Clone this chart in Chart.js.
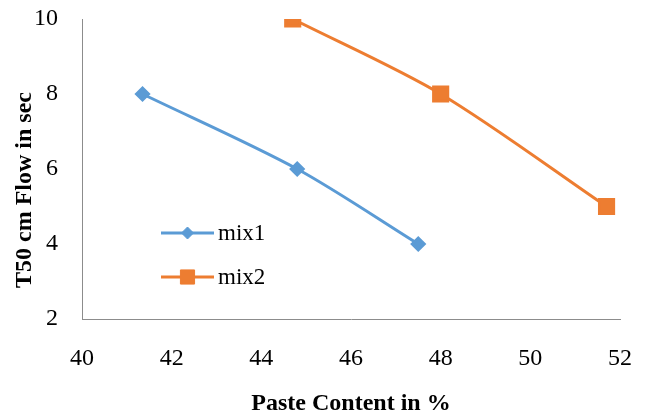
<!DOCTYPE html>
<html>
<head>
<meta charset="utf-8">
<script src="https://cdn.jsdelivr.net/npm/chart.js@4"></script>
<style>
  body { margin: 0; background: #fff; }
  #wrap { width: 648px; height: 418px; }
</style>
</head>
<body>
<div id="wrap"><canvas id="chart" width="648" height="418"></canvas></div>
<script>
// --- Data ---
const mix1X = [41.35, 44.8, 47.5];
const mix1Y = [8, 6, 4];
const mix2X = [44.7, 48.0, 51.7];
const mix2Y = [10, 8, 5];
const xTicks = [40, 42, 44, 46, 48, 50, 52];
const yTicks = [2, 4, 6, 8, 10];
const seriesNames = ["mix1", "mix2"];

const BLUE = "#5B9BD5";
const ORANGE = "#ED7D31";
const AXIS = "#8c8c8c";
const FONT = "'Liberation Serif', 'Times New Roman', serif";

const toPoints = (xs, ys) => xs.map((x, i) => ({ x, y: ys[i] }));

// legend drawn inside the plot, like the original
const insideLegend = {
  id: "insideLegend",
  afterDraw(chart) {
    const ctx = chart.ctx;
    const area = chart.chartArea;
    const x0 = area.left + 79, x1 = area.left + 132;
    const rows = [area.top + 214, area.top + 258];
    chart.data.datasets.forEach((ds, i) => {
      const y = rows[i];
      ctx.save();
      ctx.strokeStyle = ds.borderColor;
      ctx.lineWidth = ds.borderWidth;
      ctx.beginPath();
      ctx.moveTo(x0, y);
      ctx.lineTo(x1, y);
      ctx.stroke();
      ctx.fillStyle = ds.pointBackgroundColor;
      ctx.strokeStyle = ds.pointBackgroundColor;
      ctx.lineWidth = 1;
      Chart.helpers.drawPoint(ctx, { pointStyle: ds.pointStyle, radius: ds.pointRadius, borderWidth: 1 }, (x0 + x1) / 2, y);
      ctx.fillStyle = "#000";
      ctx.font = "23px " + FONT;
      ctx.textBaseline = "middle";
      ctx.textAlign = "left";
      ctx.fillText(seriesNames[i], x1 + 4, y + 1);
      ctx.restore();
    });
  }
};

// y axis title, placed where the original has it
const yTitle = {
  id: "yTitle",
  afterDraw(chart) {
    const ctx = chart.ctx;
    ctx.save();
    ctx.translate(25, chart.chartArea.top + 171);
    ctx.rotate(-Math.PI / 2);
    ctx.font = "bold 24px " + FONT;
    ctx.fillStyle = "#000";
    ctx.textAlign = "center";
    ctx.textBaseline = "middle";
    ctx.fillText("T50 cm Flow in sec", 0, 0);
    ctx.restore();
  }
};

new Chart(document.getElementById("chart"), {
  type: "line",
  data: {
    datasets: [
      {
        label: seriesNames[0],
        data: toPoints(mix1X, mix1Y),
        borderColor: BLUE,
        backgroundColor: BLUE,
        pointBackgroundColor: BLUE,
        pointBorderColor: BLUE,
        borderWidth: 3,
        pointStyle: "rectRot",
        pointRadius: 6,
        pointHoverRadius: 6,
        tension: 0.3
      },
      {
        label: seriesNames[1],
        data: toPoints(mix2X, mix2Y),
        borderColor: ORANGE,
        backgroundColor: ORANGE,
        pointBackgroundColor: ORANGE,
        pointBorderColor: ORANGE,
        borderWidth: 3,
        pointStyle: "rect",
        pointRadius: 10,
        pointHoverRadius: 10,
        tension: 0.3
      }
    ]
  },
  options: {
    responsive: false,
    animation: false,
    layout: { autoPadding: false, padding: { top: 19, right: 28, left: 0, bottom: 0 } },
    plugins: {
      legend: { display: false },
      tooltip: { enabled: false }
    },
    scales: {
      x: {
        type: "linear",
        min: xTicks[0],
        max: xTicks[xTicks.length - 1],
        afterBuildTicks: (s) => { s.ticks = xTicks.map(v => ({ value: v })); },
        afterFit: (s) => { s.height = 99; },
        // invisible grid, tick length only used to push labels down
        grid: { color: "rgba(0,0,0,0)", drawTicks: true, tickLength: 25 },
        border: { display: true, color: AXIS, width: 1 },
        ticks: { color: "#000", padding: 0, font: { family: FONT, size: 24 } },
        title: {
          display: true,
          text: "Paste Content in %",
          color: "#000",
          padding: { top: 0, bottom: 0 },
          font: { family: FONT, size: 24, weight: "bold" }
        }
      },
      y: {
        type: "linear",
        min: yTicks[0],
        max: yTicks[yTicks.length - 1],
        afterBuildTicks: (s) => { s.ticks = yTicks.map(v => ({ value: v })); },
        afterFit: (s) => { s.width = 82; },
        grid: { color: "rgba(0,0,0,0)", drawTicks: true, tickLength: 24 },
        border: { display: true, color: AXIS, width: 1 },
        ticks: { color: "#000", padding: 0, font: { family: FONT, size: 24 } }
      }
    }
  },
  plugins: [insideLegend, yTitle]
});
</script>
</body>
</html>
